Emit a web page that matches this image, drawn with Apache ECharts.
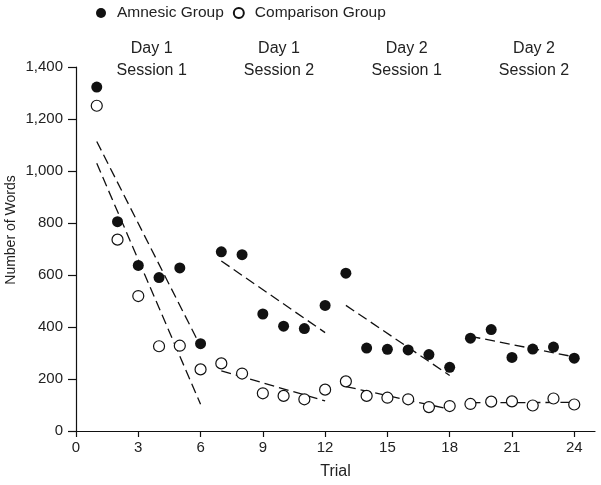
<!DOCTYPE html>
<html>
<head>
<meta charset="utf-8">
<script src="https://cdn.jsdelivr.net/npm/echarts@6/dist/echarts.min.js"></script>
<style>
  html, body { margin: 0; padding: 0; background: #fff; }
  #chart { width: 601px; height: 485px; }
</style>
</head>
<body>
<div id="chart"></div>
<script>
// values
var trials = [1, 2, 3, 4, 5, 6, 7, 8, 9, 10, 11, 12, 13, 14, 15, 16, 17, 18, 19, 20, 21, 22, 23, 24];
var amnesic = [1323, 805, 637, 590, 627, 336, 689, 678, 450, 403, 394, 483, 607, 319, 314, 312, 294, 245, 357, 390, 283, 315, 323, 280];
var comparison = [1251, 736, 519, 326, 328, 237, 260, 221, 145, 135, 122, 159, 191, 135, 128, 122, 92, 96, 104, 113, 114, 98, 125, 102];
var sessionRanges = [[1, 6], [7, 12], [13, 18], [19, 24]];
var sessionDays = ['Day 1', 'Day 1', 'Day 2', 'Day 2'];
var sessionNames = ['Session 1', 'Session 2', 'Session 1', 'Session 2'];
var xTicks = [0, 3, 6, 9, 12, 15, 18, 21, 24];

var font = 'Liberation Sans, Arial, Helvetica, sans-serif';
var ink = '#222';

// least squares line across one session
function fitLine(vals, range) {
  var xs = [], ys = [];
  trials.forEach(function (t, i) {
    if (t >= range[0] && t <= range[1]) { xs.push(t); ys.push(vals[i]); }
  });
  var n = xs.length, mx = 0, my = 0;
  for (var i = 0; i < n; i++) { mx += xs[i]; my += ys[i]; }
  mx /= n; my /= n;
  var sxy = 0, sxx = 0;
  for (var i = 0; i < n; i++) { sxy += (xs[i] - mx) * (ys[i] - my); sxx += (xs[i] - mx) * (xs[i] - mx); }
  var b = sxy / sxx, a = my - b * mx;
  return [[range[0], a + b * range[0]], [range[1], a + b * range[1]]];
}

var series = [];
[amnesic, comparison].forEach(function (vals) {
  sessionRanges.forEach(function (r) {
    series.push({
      type: 'line',
      data: fitLine(vals, r),
      symbol: 'none',
      silent: true,
      z: 1,
      lineStyle: { color: '#111', width: 1.3, type: [10, 5] }
    });
  });
});

series.push({
  name: 'Amnesic Group',
  type: 'scatter',
  z: 5,
  symbolSize: 11,
  itemStyle: { color: '#111', opacity: 1 },
  data: trials.map(function (t, i) { return [t, amnesic[i]]; })
});
series.push({
  name: 'Comparison Group',
  type: 'scatter',
  z: 5,
  symbolSize: 11,
  itemStyle: { color: '#fff', borderColor: '#111', borderWidth: 1.2, opacity: 1 },
  data: trials.map(function (t, i) { return [t, comparison[i]]; })
});

// session headings above the plot
var centers = [151.7, 279, 406.7, 534];
var graphics = [];
sessionDays.forEach(function (d, i) {
  graphics.push({
    type: 'text', x: centers[i], y: 60,
    style: { text: d + '\n' + sessionNames[i], align: 'center', verticalAlign: 'middle',
      font: '16px ' + font, fill: ink, lineHeight: 22 }
  });
});
graphics.push({
  type: 'text', x: 11.5, y: 230, rotation: Math.PI / 2,
  style: { text: 'Number of Words', align: 'center', verticalAlign: 'middle', font: '14px ' + font, fill: ink }
});

var chart = echarts.init(document.getElementById('chart'));
chart.setOption({
  animation: false,
  backgroundColor: '#fff',
  grid: { left: 76, right: 6, top: 67, bottom: 54, containLabel: false },
  legend: {
    left: 91, top: 0,
    itemWidth: 22, itemHeight: 10, itemGap: 9,
    data: ['Amnesic Group', 'Comparison Group'],
    textStyle: { fontFamily: font, fontSize: 15.5, color: ink }
  },
  xAxis: {
    type: 'value', min: 0, max: 25,
    name: 'Trial', nameLocation: 'middle', nameGap: 33,
    nameTextStyle: { fontFamily: font, fontSize: 16, color: ink },
    axisLine: { lineStyle: { color: '#111', width: 1.2 } },
    axisTick: { length: 6, customValues: xTicks, lineStyle: { color: '#111', width: 1.2 } },
    axisLabel: { customValues: xTicks, margin: 9, fontFamily: font, fontSize: 15, color: ink },
    splitLine: { show: false }
  },
  yAxis: {
    type: 'value', min: 0, max: 1400, interval: 200,
    axisLine: { show: true, lineStyle: { color: '#111', width: 1.2 } },
    axisTick: { show: true, length: 8, lineStyle: { color: '#111', width: 1.2 } },
    axisLabel: {
      margin: 13, fontFamily: font, fontSize: 15, color: ink,
      formatter: function (v) { return v.toLocaleString('en-US'); }
    },
    splitLine: { show: false }
  },
  graphic: graphics,
  series: series
});
</script>
</body>
</html>
